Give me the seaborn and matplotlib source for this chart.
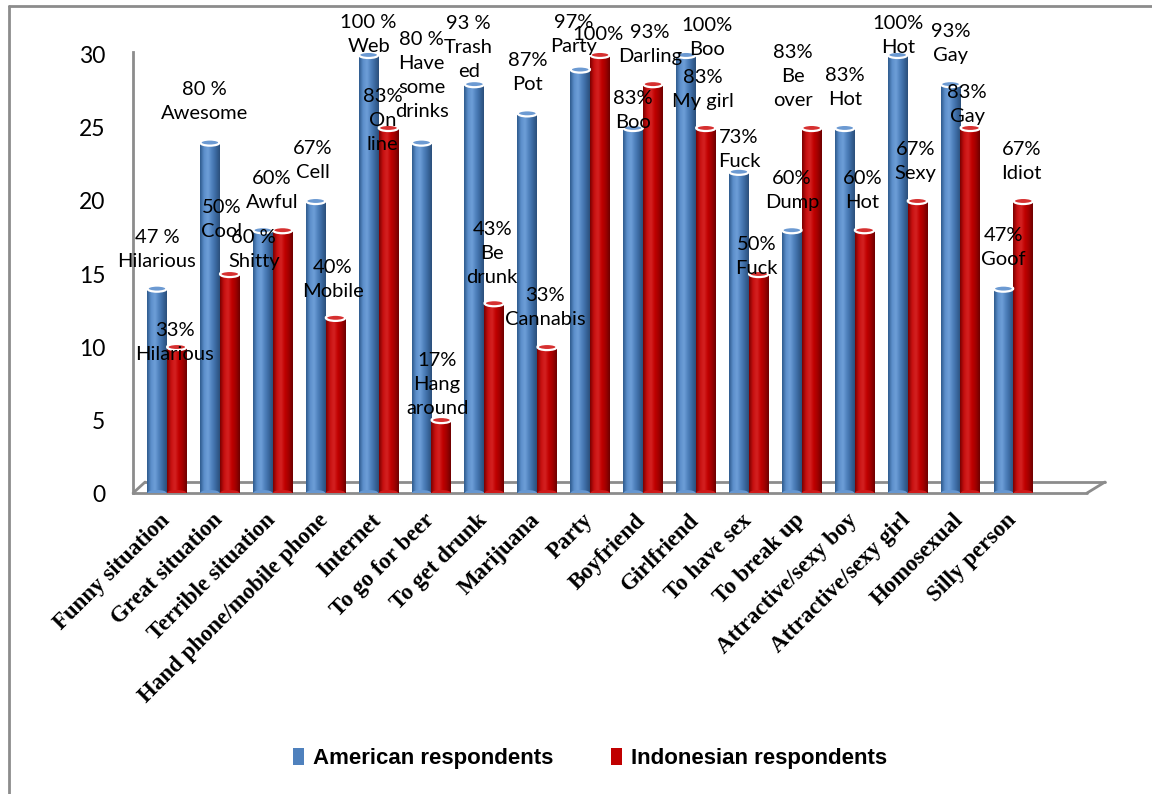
import numpy as np
import pandas as pd
import matplotlib
matplotlib.use("Agg")
import matplotlib.pyplot as plt
import matplotlib.transforms as mtransforms
import seaborn as sns
from matplotlib.patches import Ellipse
from matplotlib.colors import LinearSegmentedColormap
from matplotlib.lines import Line2D
from matplotlib.font_manager import FontProperties

# ---------------- data ----------------
categories = ["Funny situation", "Great situation", "Terrible situation",
              "Hand phone/mobile phone", "Internet", "To go for beer",
              "To get drunk", "Marijuana", "Party", "Boyfriend", "Girlfriend",
              "To have sex", "To break up", "Attractive/sexy boy",
              "Attractive/sexy girl", "Homosexual", "Silly person"]
american = [14, 24, 18, 20, 30, 24, 28, 26, 29, 25, 30, 22, 18, 25, 30, 28, 14]
indonesian = [10, 15, 18, 12, 25, 5, 13, 10, 30, 28, 25, 15, 25, 18, 20, 25, 20]
american_labels = ["47 %\nHilarious", "80 %\nAwesome", "60 %\nShitty", "67%\nCell",
                   "100 %\nWeb", "80 %\nHave\nsome\ndrinks", "93 %\nTrash\ned",
                   "87%\nPot", "97%\nParty", "83%\nBoo", "100%\nBoo", "73%\nFuck",
                   "60%\nDump", "83%\nHot", "100%\nHot", "93%\nGay", "47%\nGoof"]
indonesian_labels = ["33%\nHilarious", "50%\nCool", "60%\nAwful", "40%\nMobile",
                     "83%\nOn\nline", "17%\nHang\naround", "43%\nBe\ndrunk",
                     "33%\nCannabis", "100%", "93%\nDarling", "83%\nMy girl",
                     "50%\nFuck", "83%\nBe\nover", "60%\nHot", "67%\nSexy",
                     "83%\nGay", "67%\nIdiot"]
series_names = ["American respondents", "Indonesian respondents"]
y_ticks = [0, 5, 10, 15, 20, 25, 30]

# label placement (style): offsets relative to bar centre / bar top
am_dx = [0, -0.11, -0.17, -0.06, 0, 0, -0.11, 0, -0.13, 0, 0.4, 0, 0, 0, 0, 0, 0]
am_dy = [2.7, 2.8, -1.3, 2.8, 1.4, 4.6, 2.5, 2.8, 2.4, 1.2, 1.2, 1.5, 2.75, 2.8, 1.3, 2.75, 2.8]
in_dx = [-0.04, -0.15, -0.2, -0.05, -0.11, -0.08, -0.04, -0.04, -0.04, -0.06, -0.06, -0.04, -0.36, -0.04, -0.04, -0.06, -0.04]
in_dy = [0.3, 3.7, 2.75, 2.6, 0.5, 2.4, 3.4, 2.7, 1.4, 2.7, 2.6, 1.2, 3.5, 2.75, 2.7, 1.6, 2.7]

df = pd.DataFrame({
    "category": categories * 2,
    "value": american + indonesian,
    "group": [series_names[0]] * len(categories) + [series_names[1]] * len(categories),
})

blue = "#4F81BD"
red = "#C00000"

sns.set_theme(style="white")
plt.rcParams["font.family"] = ["Lato", "DejaVu Sans"]

fig = plt.figure(figsize=(11.52, 7.94), dpi=100)
ax = fig.add_axes([0.1155, 0.379, 0.828, 0.5555])

sns.barplot(data=df, x="category", y="value", hue="group", palette=[blue, red],
            width=0.75, ax=ax, legend=False, saturation=1, linewidth=0)

ax.set_xlim(-0.64, 17.39)
ax.set_ylim(0, 30.2)

# cylinder-like shading
cmaps = [
    LinearSegmentedColormap.from_list("b", ["#2E5A8C", "#5C8FCB", "#6E9FD8", "#4F81BD", "#3A689F", "#2B4F7A"]),
    LinearSegmentedColormap.from_list("r", ["#7A0000", "#C81010", "#D42222", "#C00000", "#A00000", "#6E0000"]),
]
cap_colors = ["#6C9AD2", "#D63030"]
grad = np.linspace(0, 1, 64).reshape(1, -1)
for ci, cont in enumerate(ax.containers):
    for patch in cont.patches:
        x0 = patch.get_x()
        w = patch.get_width()
        h = patch.get_height()
        im = ax.imshow(grad, cmap=cmaps[ci], aspect="auto", extent=(x0, x0 + w, 0, h),
                       origin="lower", zorder=2, interpolation="bicubic")
        im.set_clip_path(patch)
        patch.set_facecolor("none")
        cap = Ellipse((x0 + w / 2, h), w * 0.98, 0.42, facecolor=cap_colors[ci],
                      edgecolor="white", linewidth=1.6, zorder=3)
        ax.add_patch(cap)
        bot = Ellipse((x0 + w / 2, 0), w * 0.98, 0.42, facecolor=cmaps[ci](0.45),
                      edgecolor="none", zorder=2)
        ax.add_patch(bot)

ax.set_xlim(-0.64, 17.39)
ax.set_ylim(0, 30.2)

# data labels
bar_half = 0.75 / 4
lab_kw = dict(ha="center", va="center", fontsize=14.5, linespacing=1.5,
              color="black", zorder=5, clip_on=False)
for i in range(len(categories)):
    ax.text(i - bar_half + am_dx[i], american[i] + am_dy[i], american_labels[i], **lab_kw)
    ax.text(i + bar_half + in_dx[i], indonesian[i] + in_dy[i], indonesian_labels[i], **lab_kw)

# axes styling
for s in ["top", "right", "bottom"]:
    ax.spines[s].set_visible(False)
ax.spines["left"].set_color("#8C8C8C")
ax.spines["left"].set_linewidth(2)
ax.set_yticks(y_ticks)
ax.tick_params(axis="y", length=0, pad=20, labelsize=16.5, labelcolor="black")
ax.tick_params(axis="x", length=0, pad=12)
ax.set_xticks(range(len(categories)))
ax.set_xticklabels(categories, rotation=45, ha="right", rotation_mode="anchor",
                   fontsize=16.5, fontweight="bold", color="black",
                   family=["Liberation Serif", "DejaVu Serif"])
shift = mtransforms.ScaledTranslation(-8 / 100, 0, fig.dpi_scale_trans)
for lbl in ax.get_xticklabels():
    lbl.set_transform(lbl.get_transform() + shift)
ax.set_xlabel("")
ax.set_ylabel("")

# 3D-like floor (in axes coordinates)
gray = "#8C8C8C"
dxf, dyf = 0.0126, 0.025
floor_kw = dict(transform=ax.transAxes, color=gray, lw=2, clip_on=False, zorder=1)
ax.add_line(Line2D([0, 1], [0, 0], **floor_kw))
ax.add_line(Line2D([0, dxf], [0, dyf], **floor_kw))
ax.add_line(Line2D([1, 1 + 1.5 * dxf], [0, dyf], **floor_kw))
ax.add_line(Line2D([dxf, 1 + 1.5 * dxf], [dyf, dyf], **floor_kw))

# legend
handles = [plt.Rectangle((0, 0), 1, 1, facecolor=blue, edgecolor="none"),
           plt.Rectangle((0, 0), 1, 1, facecolor=red, edgecolor="none")]
leg = fig.legend(handles, series_names, loc="center", bbox_to_anchor=(0.512, 0.045),
                 ncol=2, frameon=False, handlelength=0.5, handleheight=0.8,
                 handletextpad=0.4, columnspacing=2.6,
                 prop=FontProperties(family="Liberation Sans", weight="bold", size=16))
for t in leg.get_texts():
    t.set_fontweight("bold")
    t.set_color("black")

# outer frame (top and left visible)
fig.add_artist(Line2D([0.0075, 1.0], [0.9925, 0.9925], transform=fig.transFigure, color=gray, lw=2))
fig.add_artist(Line2D([0.0075, 0.0075], [0.0, 0.9925], transform=fig.transFigure, color=gray, lw=2))

fig.savefig("out.png", dpi=100)
